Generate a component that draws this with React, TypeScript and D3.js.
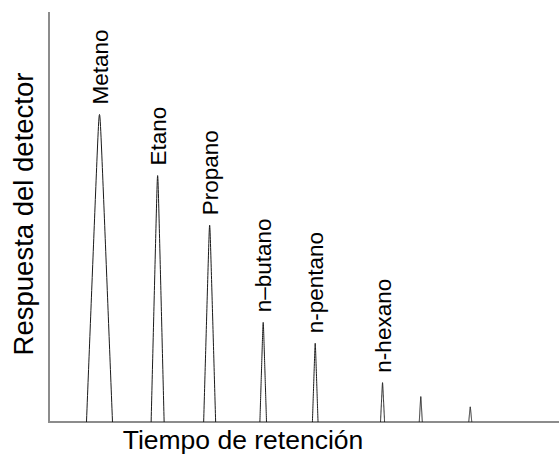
import React from "react";
import * as d3 from "d3";

// Chromatogram of light alkanes: retention time, peak height, base width
const compounds = ["Metano", "Etano", "Propano", "n–butano", "n-pentano", "n-hexano", "", ""];
const retention = [0.99, 2.13, 3.15, 4.20, 5.22, 6.54, 7.29, 8.26];
const height = [75.0, 60.1, 48.0, 24.3, 19.2, 9.6, 6.2, 3.7];
const baseWidth = [0.51, 0.255, 0.235, 0.13, 0.11, 0.08, 0.06, 0.06];

const xTitle = "Tiempo de retención";
const yTitle = "Respuesta del detector";

const W = 559;
const H = 455;

export default function App() {
  const x = d3.scaleLinear().domain([0, 10]).range([49, 559]);
  const y = d3.scaleLinear().domain([0, 100]).range([422, 12]);

  // Peak profile: straight flanks with a slightly rounded apex
  const a = 0.07;
  const norm = Math.sqrt(1 + a * a) - a;
  const profile = (u: number) => 1 - (Math.sqrt(u * u + a * a) - a) / norm;
  const us = d3.range(-1, 1.0001, 0.02);

  const line = d3
    .line<[number, number]>()
    .x((d) => x(d[0]))
    .y((d) => y(d[1]))
    .curve(d3.curveLinear);

  const peaks = retention.map((t, i) => {
    const pts: [number, number][] = us.map((u) => [t + (u * baseWidth[i]) / 2, height[i] * profile(u)]);
    return { t, h: height[i], name: compounds[i], d: line(pts) || "" };
  });

  const font = "'Liberation Sans', Arial, sans-serif";
  const labelSize = 22.5;
  const gap = 10;

  return (
    <svg width={W} height={H} style={{ position: "absolute", left: 0, top: 0, background: "#fff" }}>
      {/* axes */}
      <line x1={x(0)} x2={x(0)} y1={y(100)} y2={y(0)} stroke="#8c8c8c" strokeWidth={2} />
      <line x1={x(0) - 1} x2={x(10)} y1={y(0)} y2={y(0)} stroke="#8c8c8c" strokeWidth={2} />

      {/* peaks */}
      {peaks.map((p, i) => (
        <path key={i} d={p.d} fill="none" stroke="#1a1a1a" strokeWidth={1} />
      ))}

      {/* peak labels */}
      {peaks.map((p, i) =>
        p.name ? (
          <text
            key={"l" + i}
            transform={`translate(${x(p.t)},${y(p.h) - gap}) rotate(-90)`}
            dy="0.36em"
            textAnchor="start"
            fontFamily={font}
            fontSize={labelSize}
            fill="#000"
          >
            {p.name}
          </text>
        ) : null
      )}

      {/* axis titles */}
      <text x={243} y={449} textAnchor="middle" fontFamily={font} fontSize={26.5} fill="#000">
        {xTitle}
      </text>
      <text
        transform={`translate(33,${214}) rotate(-90)`}
        textAnchor="middle"
        fontFamily={font}
        fontSize={27.5}
        fill="#000"
      >
        {yTitle}
      </text>
    </svg>
  );
}
